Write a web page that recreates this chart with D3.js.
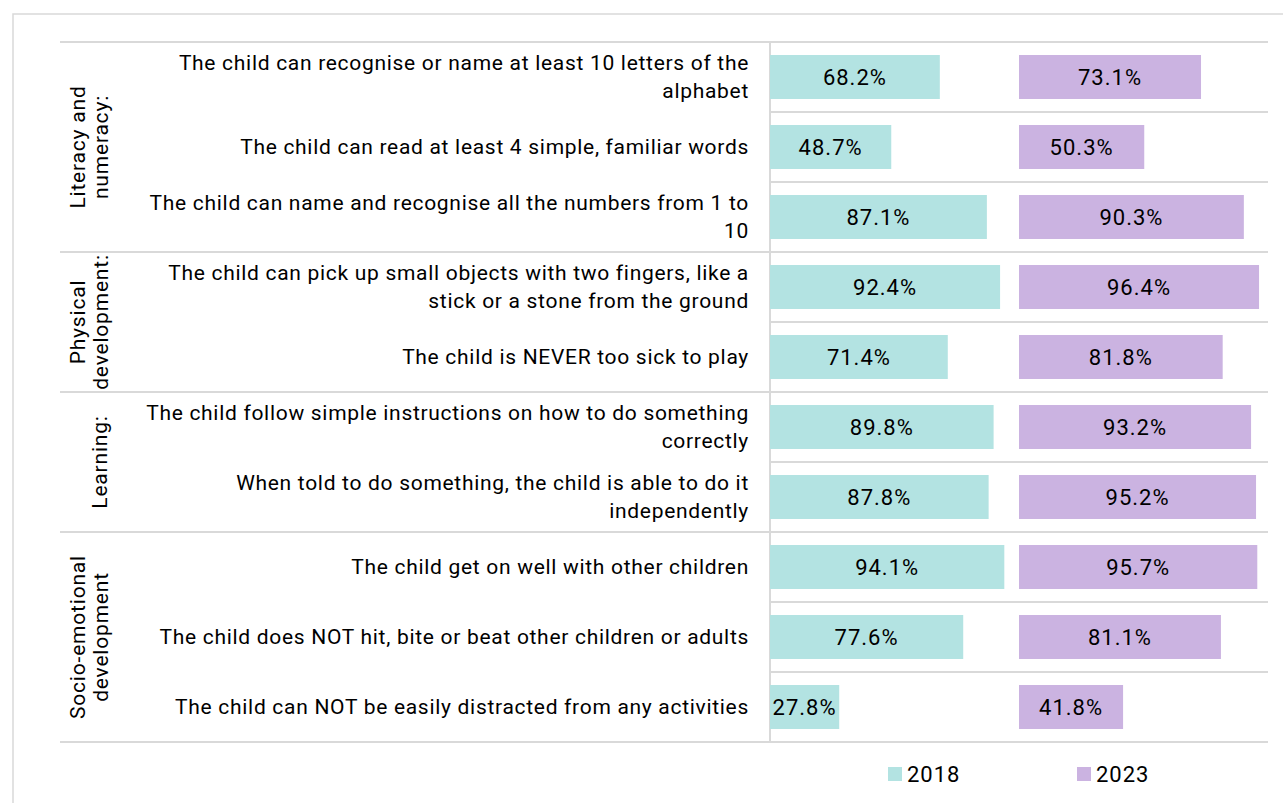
<!DOCTYPE html>
<html>
<head>
<meta charset="utf-8">
<script src="https://cdn.jsdelivr.net/npm/d3@7"></script>
<style>
  body { margin: 0; background: #fff; }
  text { font-family: Roboto, "Liberation Sans", sans-serif; fill: #000; }
</style>
</head>
<body>
<script>
var items = [
  "The child can recognise or name at least 10 letters of the\nalphabet",
  "The child can read at least 4 simple, familiar words",
  "The child can name and recognise all the numbers from 1 to\n10",
  "The child can pick up small objects with two fingers, like a\nstick or a stone from the ground",
  "The child is NEVER too sick to play",
  "The child follow simple instructions on how to do something\ncorrectly",
  "When told to do something, the child is able to do it\nindependently",
  "The child get on well with other children",
  "The child does NOT hit, bite or beat other children or adults",
  "The child can NOT be easily distracted from any activities"
];
var groups = ["Literacy and\nnumeracy:", "Physical\ndevelopment:", "Learning:", "Socio-emotional\ndevelopment"];
var groupSizes = [3, 2, 2, 3];
var years = ["2018", "2023"];
var v2018 = [68.2, 48.7, 87.1, 92.4, 71.4, 89.8, 87.8, 94.1, 77.6, 27.8];
var v2023 = [73.1, 50.3, 90.3, 96.4, 81.8, 93.2, 95.2, 95.7, 81.1, 41.8];

var W = 1283, H = 803;
var plotTop = 42, rowH = 70;
var gridColor = "#d9d9d9";
var colors = ["#b3e3e2", "#cbb3e1"];

var svg = d3.select("body").append("svg").attr("width", W).attr("height", H);

// outer frame
svg.append("path")
  .attr("d", "M13," + H + "V14H" + W)
  .attr("fill", "none").attr("stroke", gridColor).attr("stroke-width", 1.5);

var y = d3.scaleBand().domain(d3.range(items.length))
  .range([plotTop, plotTop + rowH * items.length]);

var x1 = d3.scaleLinear().domain([0, 100]).range([770, 1019]);
var x2 = d3.scaleLinear().domain([0, 100]).range([1019, 1268]);
var xs = [x1, x2];
var series = [v2018, v2023];

// row lines in bar area
svg.append("g").selectAll("line")
  .data(d3.range(items.length + 1))
  .enter().append("line")
  .attr("x1", 770).attr("x2", 1268)
  .attr("y1", function(d) { return plotTop + d * rowH; })
  .attr("y2", function(d) { return plotTop + d * rowH; })
  .attr("stroke", gridColor).attr("stroke-width", 2);

// group lines
var bounds = [0];
groupSizes.forEach(function(s) { bounds.push(bounds[bounds.length - 1] + s); });
svg.append("g").selectAll("line")
  .data(bounds)
  .enter().append("line")
  .attr("x1", 60).attr("x2", 1268)
  .attr("y1", function(d) { return plotTop + d * rowH; })
  .attr("y2", function(d) { return plotTop + d * rowH; })
  .attr("stroke", gridColor).attr("stroke-width", 2);

// vertical axis line
svg.append("line")
  .attr("x1", 770).attr("x2", 770)
  .attr("y1", plotTop).attr("y2", plotTop + rowH * items.length)
  .attr("stroke", gridColor).attr("stroke-width", 2);

// item labels
var lab = svg.append("g").selectAll("text")
  .data(items)
  .enter().append("text")
  .attr("text-anchor", "end")
  .attr("font-size", "21px")
  .attr("letter-spacing", "0.7px")
  .attr("y", function(d, i) { return y(i) + rowH / 2; });
lab.each(function(d) {
  var lines = d.split("\n");
  var t = d3.select(this);
  var y0 = -(lines.length - 1) * 28 / 2;
  lines.forEach(function(l, k) {
    t.append("tspan").attr("x", 749)
      .attr("dy", k === 0 ? (y0 + 7) : 28)
      .text(l);
  });
});

// group labels
groups.forEach(function(g, gi) {
  var cy = plotTop + rowH * (bounds[gi] + bounds[gi + 1]) / 2;
  var lines = g.split("\n");
  var t = svg.append("text")
    .attr("transform", "translate(85," + cy + ") rotate(-90)")
    .attr("text-anchor", "middle")
    .attr("font-size", "21px")
    .attr("letter-spacing", "0.8px");
  lines.forEach(function(l, k) {
    t.append("tspan").attr("x", 0).attr("y", k * 23 + (lines.length === 1 ? 22 : 0)).text(l);
  });
});

// bars
series.forEach(function(vals, si) {
  var sx = xs[si];
  var g = svg.append("g");
  g.selectAll("rect")
    .data(vals)
    .enter().append("rect")
    .attr("x", sx(0))
    .attr("y", function(d, i) { return y(i) + 13; })
    .attr("width", function(d) { return sx(d) - sx(0); })
    .attr("height", 44)
    .attr("fill", colors[si]);
  g.selectAll("text")
    .data(vals)
    .enter().append("text")
    .attr("x", function(d) { return (sx(0) + sx(d)) / 2; })
    .attr("y", function(d, i) { return y(i) + rowH / 2 + 8; })
    .attr("text-anchor", "middle")
    .attr("font-size", "22px")
    .attr("letter-spacing", "1px")
    .text(function(d) { return d.toFixed(1) + "%"; });
});

// legend
var leg = svg.append("g").selectAll("g")
  .data(years)
  .enter().append("g")
  .attr("transform", function(d, i) { return "translate(" + (888 + i * 189) + ",767)"; });
leg.append("rect").attr("width", 14).attr("height", 14)
  .attr("fill", function(d, i) { return colors[i]; });
leg.append("text").attr("x", 19).attr("y", 15)
  .attr("font-size", "22px")
  .attr("letter-spacing", "1px")
  .text(function(d) { return d; });
</script>
</body>
</html>
